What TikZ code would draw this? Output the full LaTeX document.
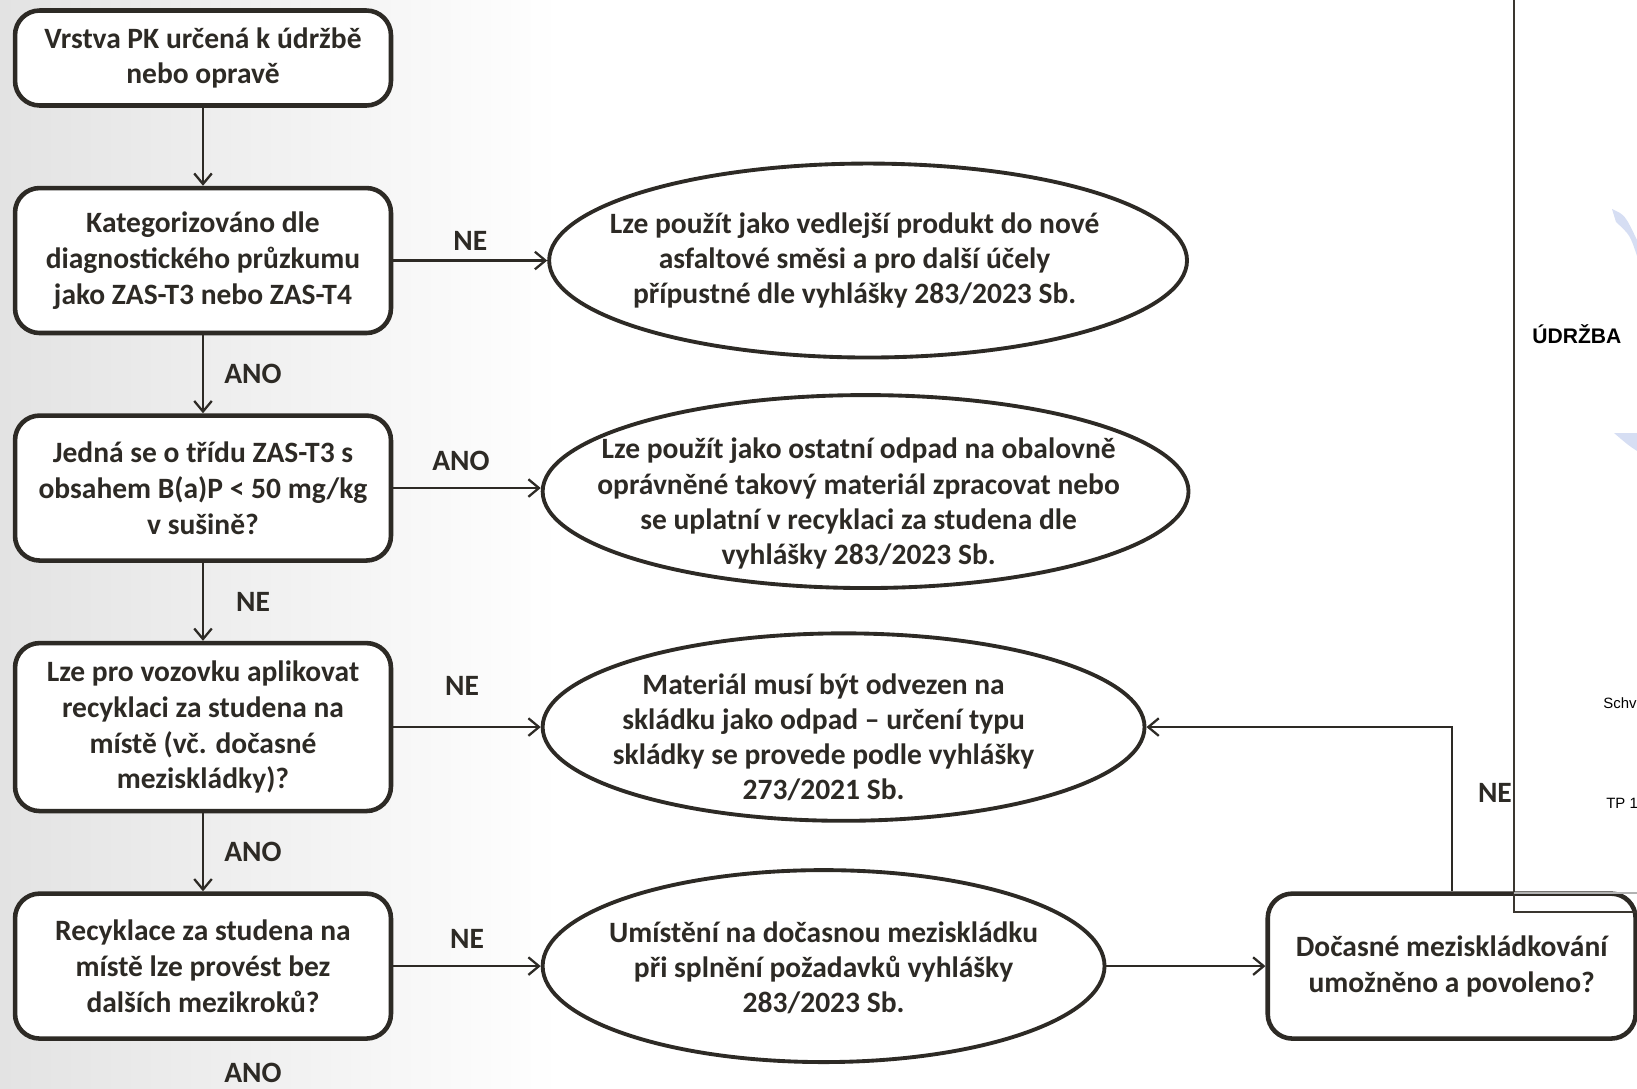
\documentclass[tikz,border=0pt]{standalone}
\usepackage{fontspec}
\setmainfont{Carlito}
\newfontfamily\pagefont{Liberation Sans}
\usetikzlibrary{shapes.geometric, arrows.meta, positioning}
\definecolor{ink}{HTML}{2D2A25}
\definecolor{pageline}{HTML}{3A3630}
\definecolor{logoblue}{HTML}{D6DEF3}
\tikzset{
  question/.style={
    rectangle, rounded corners=14pt,
    minimum width=7.52cm, align=center,
    draw=ink, line width=2.6pt, fill=white,
    text=ink, font=\fontsize{16.8}{20.4}\selectfont\bfseries,
  },
  outcome/.style={
    ellipse, inner sep=0pt,
    draw=ink, line width=2.2pt, fill=white,
  },
  outcometext/.style={
    align=center, inner sep=0pt,
    text=ink, font=\fontsize{16.8}{20}\selectfont\bfseries,
  },
  arrow/.style={-{Straight Barb[length=6pt,width=10pt]}, line width=1.3pt, color=ink},
  answer/.style={text=ink, font=\fontsize{16.8}{20}\selectfont\bfseries},
  pagetext/.style={anchor=west, inner sep=0pt, font=\pagefont},
}

\begin{document}
\begin{tikzpicture}[x=0.02cm, y=-0.02cm, node distance=1.56cm]

  \useasboundingbox (0,0) rectangle (1637,1089);
  \shade[left color=black!11, right color=white] (0,0) rectangle (560,1089);

  % left column
  \node[question, minimum height=1.9cm] (layer) at (203,58) {Vrstva PK určená k údržbě\\nebo opravě};
  \node[question, minimum height=2.9cm, below=of layer] (category) {Kategorizováno dle\\diagnostického průzkumu\\jako ZAS-T3 nebo ZAS-T4};
  \node[question, minimum height=2.9cm, below=of category] (tclass) {Jedná se o třídu ZAS-T3 s\\obsahem B(a)P < 50 mg/kg\\v sušině?};
  \node[question, minimum height=3.36cm, below=of tclass] (coldsite) {Lze pro vozovku aplikovat\\recyklaci za studena na\\místě (vč. dočasné\\meziskládky)?};
  \node[question, minimum height=2.9cm, below=of coldsite] (direct) {Recyklace za studena na\\místě lze provést bez\\dalších mezikroků?};
  \node[answer, inner sep=0pt] (lastyes) at (253,1073) {ANO};

  % outcomes
  \node[outcome, minimum width=12.76cm, minimum height=3.88cm, right=3.08cm of category] (byproduct) {};
  \node[outcometext] (byproducttext) at ([xshift=-0.27cm]byproduct.center) {Lze použít jako vedlejší produkt do nové\\asfaltové směsi a pro další účely\\přípustné dle vyhlášky 283/2023 Sb.};
  \node[outcome, minimum width=12.92cm, minimum height=3.86cm, right=2.95cm of tclass, yshift=-0.07cm] (mixplant) {};
  \node[outcometext] (mixplanttext) at ([xshift=-0.14cm, yshift=-0.24cm]mixplant.center) {Lze použít jako ostatní odpad na obalovně\\oprávněné takový materiál zpracovat nebo\\se uplatní v recyklaci za studena dle\\vyhlášky 283/2023 Sb.};
  \node[outcome, minimum width=12.04cm, minimum height=3.75cm, right=2.95cm of coldsite] (landfill) {};
  \node[outcometext] (landfilltext) at ([xshift=-0.4cm, yshift=-0.2cm]landfill.center) {Materiál musí být odvezen na\\skládku jako odpad – určení typu\\skládky se provede podle vyhlášky\\273/2021 Sb.};
  \node[outcome, minimum width=11.24cm, minimum height=3.84cm, right=2.95cm of direct] (tempstore) {};
  \node[outcometext] (tempstoretext) at ([yshift=-0.04cm]tempstore.center) {Umístění na dočasnou meziskládku\\při splnění požadavků vyhlášky\\283/2023 Sb.};
  \node[question, minimum width=7.36cm, minimum height=2.9cm, right=3.18cm of tempstore] (allowed) {Dočasné meziskládkování\\umožněno a povoleno?};

  % connectors
  \draw[arrow] (layer) -- (category);
  \draw[arrow] (category) -- node[answer, xshift=1cm]{ANO} (tclass);
  \draw[arrow] (tclass) -- node[answer, xshift=1cm]{NE} (coldsite);
  \draw[arrow] (coldsite) -- node[answer, xshift=1cm]{ANO} (direct);
  \draw[arrow] (category) -- node[answer, above=1.5pt]{NE} (byproduct);
  \draw[arrow] (tclass) -- node[answer, above=6pt, xshift=-0.12cm]{ANO} (tclass -| mixplant.west);
  \draw[arrow] (coldsite) -- node[answer, above=14pt, xshift=-0.1cm]{NE} (landfill);
  \draw[arrow] (direct) -- node[answer, above=6pt]{NE} (tempstore);
  \draw[arrow] (tempstore) -- (allowed);
  \draw[arrow] (allowed) |- node[answer, right=11pt, pos=0.3]{NE} (landfill);

  % page behind
  \draw[pageline, line width=1pt] (1514,0) -- (1514,912) -- (1637,912);
  \draw[black!30, line width=1pt] (1514,893) -- (1637,893);
  \node[pagetext, font=\pagefont\fontsize{12}{14}\selectfont\bfseries] (pagetitle) at (1532,334) {ÚDRŽBA};
  \node[pagetext, font=\pagefont\fontsize{8.5}{10}\selectfont] (approved) at (1603,703) {Schv};
  \node[pagetext, font=\pagefont\fontsize{8.5}{10}\selectfont] (tpcode) at (1606,803) {TP 1};
  \fill[logoblue] (1612,209) .. controls (1625,215) .. (1637,240) -- (1637,256) .. controls (1630,235) .. (1616,222) -- cycle;
  \fill[logoblue] (1614,433) -- (1637,433) -- (1637,451) .. controls (1628,445) .. (1614,433) -- cycle;

\end{tikzpicture}
\end{document}
